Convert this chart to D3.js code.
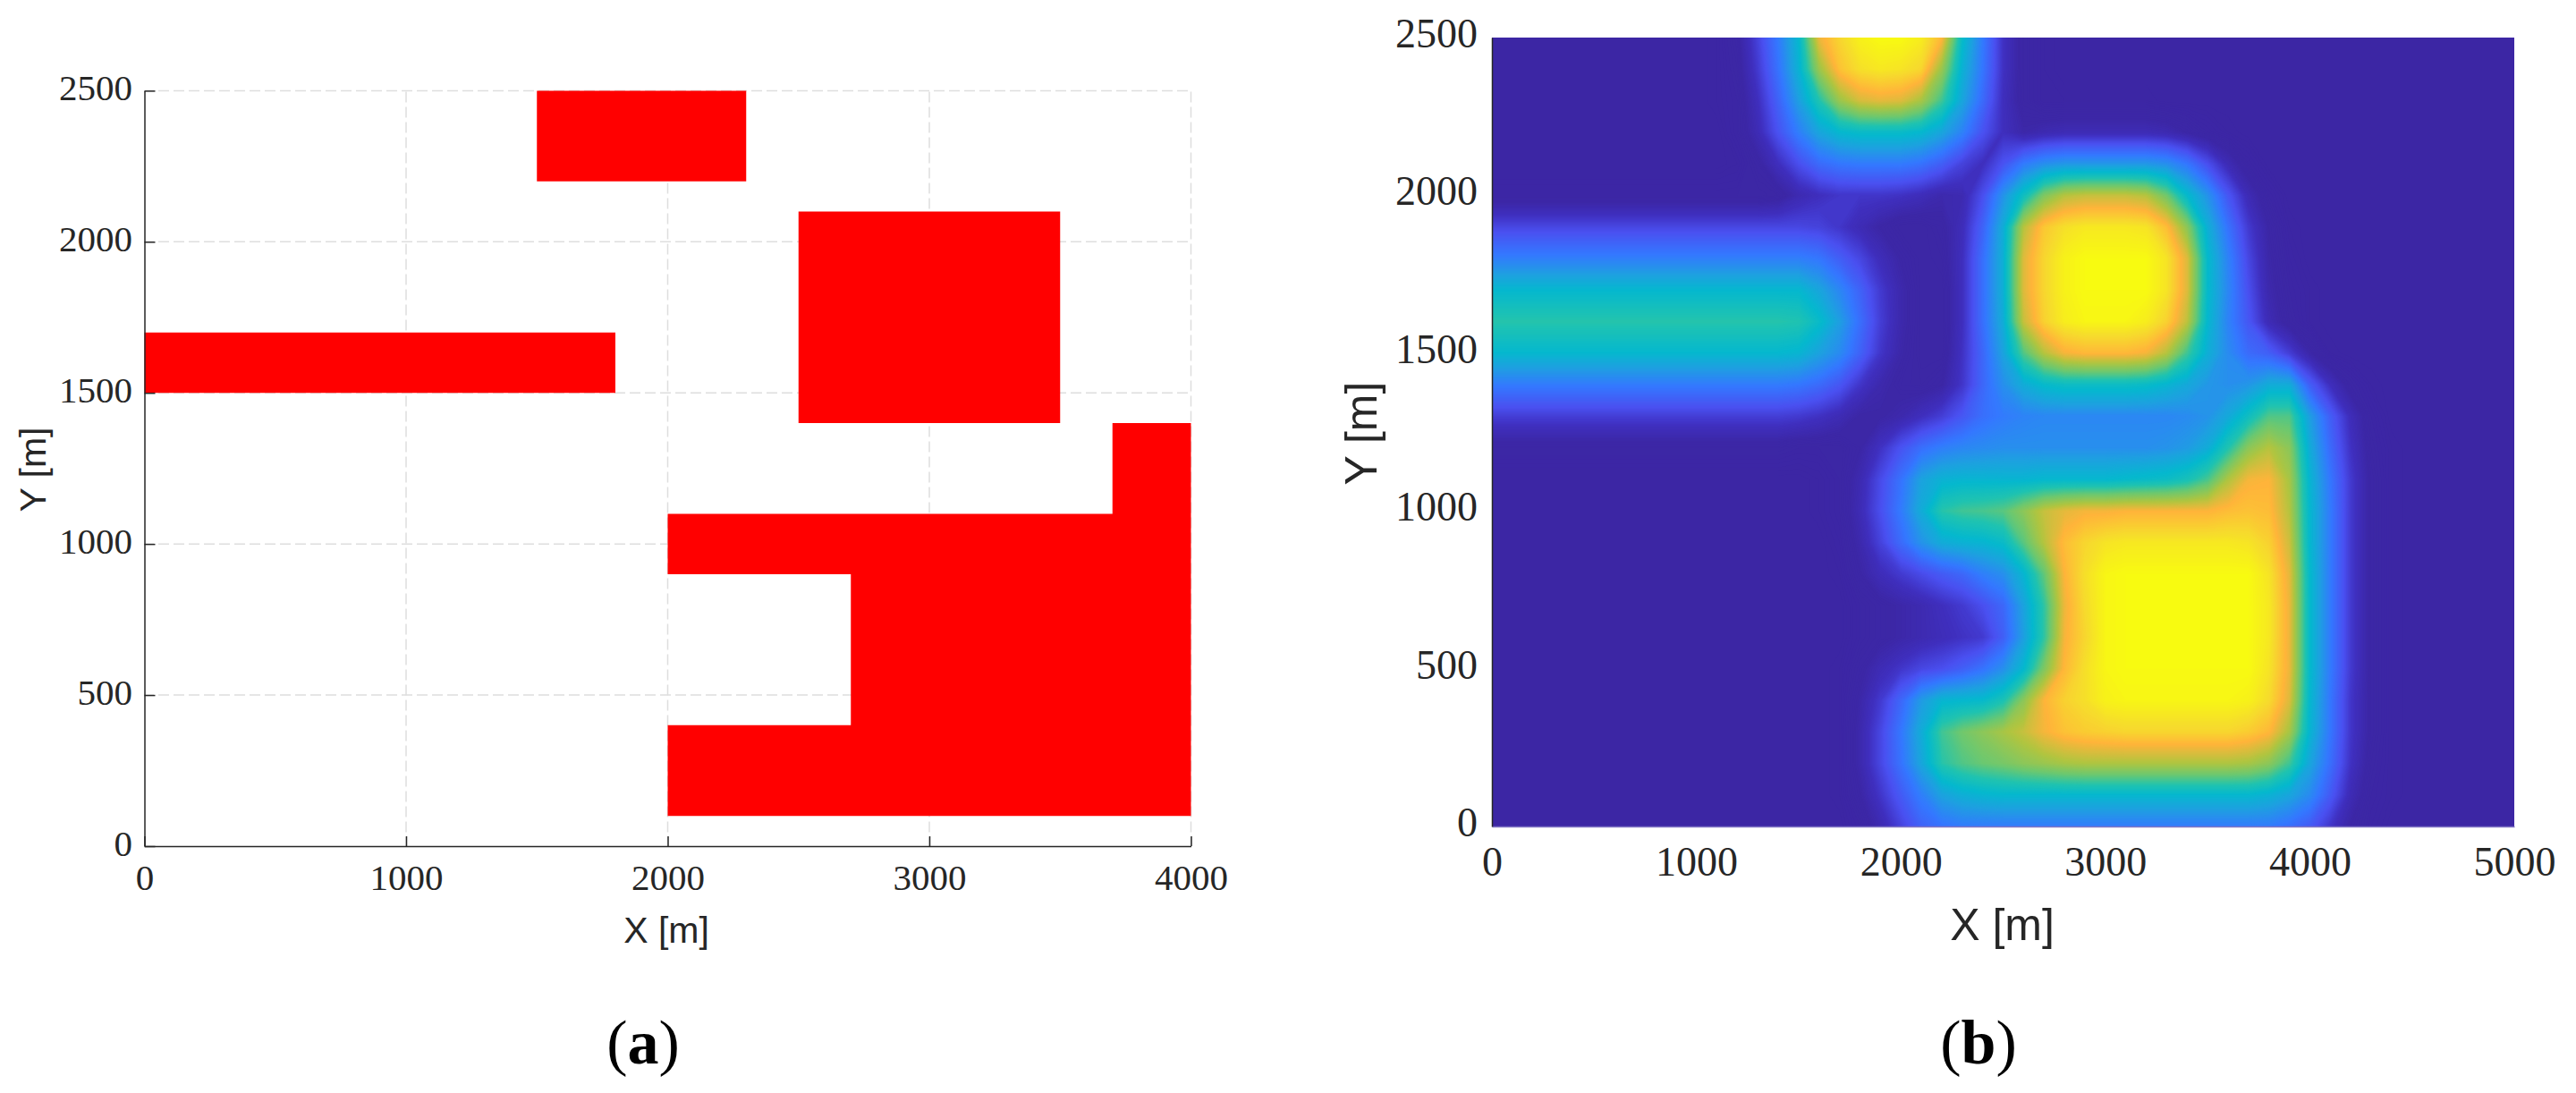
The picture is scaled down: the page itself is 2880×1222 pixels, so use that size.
<!DOCTYPE html>
<html lang="en">
<head>
<meta charset="utf-8">
<style>
  html, body { margin: 0; padding: 0; background: #fff; }
  svg { display: block; }
  .tick text { font-family: "Liberation Serif", serif; fill: #262626; }
</style>
</head>
<body>
<div id="my_dataviz"></div>
<script src="https://d3js.org/d3.v7.min.js"></script>
<script>
// panel (a): obstacle outlines, in metres
var blockTop = [[1500, 2200], [2300, 2200], [2300, 2500], [1500, 2500]];
var blockMiddle = [[2500, 1400], [3500, 1400], [3500, 2100], [2500, 2100]];
var blockLeft = [[0, 1500], [1800, 1500], [1800, 1700], [0, 1700]];
var blockBottom = [[2000, 100], [4000, 100], [4000, 1400], [3700, 1400], [3700, 1100], [2000, 1100],
    [2000, 900], [2700, 900], [2700, 400], [2000, 400]];
var blocks = [blockTop, blockMiddle, blockLeft, blockBottom];

var xTicksA = [0, 1000, 2000, 3000, 4000];
var xTicksB = [0, 1000, 2000, 3000, 4000, 5000];
var yTicks = [0, 500, 1000, 1500, 2000, 2500];

// panel (b): field, one row per 100 m of Y, one value per 100 m of X (0-100)
var row0 = [0,0,0,0,0,0,0,0,0,0, 0,0,0,0,0,0,0,0,3,9, 17,25,29,31,31,31,31,31,31,31, 31,31,31,31,31,31,31,31,31,28, 23,14,6,2,0,0,0,0,0,0, 0];
var row100 = [0,0,0,0,0,0,0,0,0,0, 0,0,0,0,0,0,0,1,6,14, 23,32,41,45,47,48,48,48,48,48, 48,48,48,48,48,48,48,48,46,42, 35,23,10,3,1,0,0,0,0,0, 0];
var row200 = [0,0,0,0,0,0,0,0,0,0, 0,0,0,0,0,0,0,1,8,18, 29,42,57,62,65,67,70,72,74,75, 75,75,75,75,75,75,75,74,70,60, 42,28,13,4,1,0,0,0,0,0, 0];
var row300 = [0,0,0,0,0,0,0,0,0,0, 0,0,0,0,0,0,0,1,8,18, 30,44,60,66,70,74,78,84,88,90, 91,92,92,92,92,92,92,90,86,74, 47,30,14,5,1,0,0,0,0,0, 0];
var row400 = [0,0,0,0,0,0,0,0,0,0, 0,0,0,0,0,0,0,1,7,15, 26,39,47,48,49,55,70,85,91,94, 98,99,99,99,99,99,99,98,93,81, 48,30,14,5,1,0,0,0,0,0, 0];
var row500 = [0,0,0,0,0,0,0,0,0,0, 0,0,0,0,0,0,0,1,5,10, 14,18,20,24,29,36,48,68,86,94, 99,100,100,100,100,100,100,100,95,83, 49,31,15,5,1,0,0,0,0,0, 0];
var row600 = [0,0,0,0,0,0,0,0,0,0, 0,0,0,0,0,0,0,0,3,5, 7,9,11,13,15,24,40,58,84,92, 99,100,100,100,100,100,100,100,96,83, 49,31,15,5,1,0,0,0,0,0, 0];
var row700 = [0,0,0,0,0,0,0,0,0,0, 0,0,0,0,0,0,0,0,3,5, 7,9,12,15,20,26,41,58,83,93, 99,100,100,100,100,100,100,100,96,83, 49,31,15,5,1,0,0,0,0,0, 0];
var row800 = [0,0,0,0,0,0,0,0,0,0, 0,0,0,0,0,0,0,1,6,11, 15,19,23,26,32,36,47,64,85,94, 99,100,100,100,100,100,100,100,95,82, 49,31,15,5,1,0,0,0,0,0, 0];
var row900 = [0,0,0,0,0,0,0,0,0,0, 0,0,0,0,0,0,0,2,8,17, 27,37,44,46,47,50,63,76,87,92, 95,96,96,96,96,96,96,95,91,79, 48,31,15,5,1,0,0,0,0,0, 0];
var row1000 = [0,0,0,0,0,0,0,0,0,0, 0,0,0,0,0,0,1,3,10,20, 31,44,57,60,61,63,70,78,82,84, 84,85,85,85,85,85,87,88,87,76, 48,31,15,5,1,0,0,0,0,0, 0];
var row1100 = [0,0,0,0,0,0,0,0,0,0, 0,0,0,0,0,0,1,3,9,19, 29,41,46,47,47,47,47,48,48,48, 48,49,50,51,54,61,75,84,85,74, 47,30,15,5,1,0,0,0,0,0, 0];
var row1200 = [4,4,4,4,4,4,4,4,4,4, 4,4,4,4,4,3,3,3,6,13, 21,28,32,34,35,36,36,36,36,36, 36,36,36,37,39,44,56,70,76,70, 44,27,13,4,1,0,0,0,0,0, 0];
var row1300 = [16,16,16,16,16,16,16,16,16,16, 16,16,16,16,16,15,13,10,6,6, 8,12,16,22,28,31,33,34,34,34, 34,34,34,34,35,37,43,52,62,62, 40,24,11,3,0,0,0,0,0,0, 0];
var row1400 = [31,31,31,31,31,31,31,31,31,31, 31,31,31,31,31,30,27,22,14,8, 5,4,6,14,26,36,44,49,51,51, 51,51,50,47,43,38,36,38,44,44, 24,12,4,1,0,0,0,0,0,0, 0];
var row1500 = [48,48,48,48,48,48,48,48,48,48, 48,48,48,48,48,47,41,35,25,14, 7,3,3,13,26,41,62,76,84,86, 86,86,84,76,60,45,35,27,24,16, 7,1,0,0,0,0,0,0,0,0, 0];
var row1600 = [57,57,57,57,57,57,57,57,57,57, 57,57,57,57,57,56,50,40,28,16, 8,3,3,12,28,44,78,91,97,99, 99,99,97,91,77,48,33,22,10,4, 1,0,0,0,0,0,0,0,0,0, 0];
var row1700 = [48,48,48,48,48,48,48,48,48,48, 48,48,48,48,48,48,42,34,25,15, 8,3,3,12,28,45,81,92,98,100, 100,100,100,95,81,49,34,20,8,3, 1,0,0,0,0,0,0,0,0,0, 0];
var row1800 = [32,32,32,32,32,32,32,32,32,32, 32,32,32,32,32,32,30,24,18,11, 6,3,4,12,28,45,81,92,98,100, 100,100,100,95,81,49,33,18,7,2, 0,0,0,0,0,0,0,0,0,0, 0];
var row1900 = [18,18,18,18,18,18,18,18,18,18, 18,18,18,18,18,18,17,14,10,6, 3,3,5,11,25,44,76,89,94,96, 96,96,95,87,70,45,29,15,6,1, 0,0,0,0,0,0,0,0,0,0, 0];
var row2000 = [3,3,3,3,3,3,3,3,3,3, 3,3,3,3,4,9,12,14,14,14, 13,11,8,9,20,37,52,68,76,78, 78,78,76,66,49,37,22,10,3,0, 0,0,0,0,0,0,0,0,0,0, 0];
var row2100 = [0,0,0,0,0,0,0,0,0,0, 0,0,1,5,12,20,27,30,31,31, 31,29,24,17,12,21,31,36,38,38, 38,38,38,36,30,20,10,3,0,0, 0,0,0,0,0,0,0,0,0,0, 0];
var row2200 = [0,0,0,0,0,0,0,0,0,0, 0,0,3,10,21,32,42,48,50,50, 50,48,42,33,21,12,7,9,10,10, 10,10,10,9,6,3,1,0,0,0, 0,0,0,0,0,0,0,0,0,0, 0];
var row2300 = [0,0,0,0,0,0,0,0,0,0, 0,1,3,12,25,40,56,72,80,82, 81,74,60,42,27,12,4,1,1,1, 1,1,1,0,0,0,0,0,0,0, 0,0,0,0,0,0,0,0,0,0, 0];
var row2400 = [0,0,0,0,0,0,0,0,0,0, 0,1,4,15,29,46,72,88,94,96, 95,92,72,46,30,13,4,1,0,0, 0,0,0,0,0,0,0,0,0,0, 0,0,0,0,0,0,0,0,0,0, 0];
var row2500 = [0,0,0,0,0,0,0,0,0,0, 0,1,5,17,31,48,83,92,98,100, 100,97,86,50,31,13,4,1,0,0, 0,0,0,0,0,0,0,0,0,0, 0,0,0,0,0,0,0,0,0,0, 0];
var fieldRows = [row0, row100, row200, row300, row400, row500, row600, row700, row800, row900, row1000, row1100, row1200,
    row1300, row1400, row1500, row1600, row1700, row1800, row1900, row2000, row2100, row2200, row2300, row2400, row2500];
var gridStep = 100;

var colorStops = [0, 6, 12, 20, 30, 40, 48, 56, 65, 75, 85, 93, 100];
var colorValues = ["#3c26a4", "#3c27a6", "#3f2fbe", "#4a50f0", "#3478ff", "#1ea0e0", "#05b8ce", "#20c3b0", "#6cc870", "#b0c540", "#ffb43a", "#f6dc2c", "#f8fb10"];

var svg = d3.select("#my_dataviz")
    .append("svg")
    .attr("width", 2880)
    .attr("height", 1222);

// ---------- panel (a) ----------
var xA = d3.scaleLinear().domain([0, 4000]).range([161.5, 1331.5]);
var yA = d3.scaleLinear().domain([0, 2500]).range([946, 101.4]);

var panelA = svg.append("g");

// dashed grid
panelA.selectAll("gridX")
    .data(xTicksA.slice(1))
    .enter()
    .append("line")
    .attr("x1", function (d) { return xA(d) })
    .attr("x2", function (d) { return xA(d) })
    .attr("y1", yA(0))
    .attr("y2", yA(2500))
    .attr("stroke", "#dedede")
    .attr("stroke-width", 1.5)
    .attr("stroke-dasharray", "12,5")
    .attr("stroke-dashoffset", 1.5);
panelA.selectAll("gridY")
    .data(yTicks.slice(1))
    .enter()
    .append("line")
    .attr("x1", xA(0))
    .attr("x2", xA(4000))
    .attr("y1", function (d) { return yA(d) })
    .attr("y2", function (d) { return yA(d) })
    .attr("stroke", "#dedede")
    .attr("stroke-width", 1.5)
    .attr("stroke-dasharray", "12,5")
    .attr("stroke-dashoffset", 1.5);

// red obstacles
var outline = d3.line()
    .x(function (d) { return xA(d[0]) })
    .y(function (d) { return yA(d[1]) });
panelA.selectAll("blocks")
    .data(blocks)
    .enter()
    .append("path")
    .attr("d", function (d) { return outline(d) + "Z" })
    .attr("fill", "#ff0000");

// axes
var axisAx = panelA.append("g")
    .attr("transform", "translate(0," + yA(0) + ")")
    .call(d3.axisBottom(xA).tickValues(xTicksA).tickFormat(d3.format("d")).tickSizeInner(-11).tickSizeOuter(0).tickPadding(20));
var axisAy = panelA.append("g")
    .attr("transform", "translate(" + xA(0) + ",0)")
    .call(d3.axisLeft(yA).tickValues(yTicks).tickFormat(d3.format("d")).tickSizeInner(-12).tickSizeOuter(0).tickPadding(13.5));
[axisAx, axisAy].forEach(function (a) {
    a.selectAll("path, line").attr("stroke", "#262626").attr("stroke-width", 1.5);
    a.selectAll("text").style("font-size", "41px");
});
axisAy.selectAll("text").attr("dy", "0.25em");

panelA.append("text")
    .attr("x", 745)
    .attr("y", 1054)
    .attr("text-anchor", "middle")
    .style("font-family", "'Liberation Sans', sans-serif")
    .style("font-size", "41px")
    .style("fill", "#262626")
    .text("X [m]");
panelA.append("text")
    .attr("transform", "translate(51,525) rotate(-90)")
    .attr("text-anchor", "middle")
    .style("font-family", "'Liberation Sans', sans-serif")
    .style("font-size", "41px")
    .style("fill", "#262626")
    .text("Y [m]");

// ---------- panel (b) ----------
var xB = d3.scaleLinear().domain([0, 5000]).range([1668, 2811]);
var yB = d3.scaleLinear().domain([0, 2500]).range([924, 42]);
var fieldColor = d3.scaleLinear().domain(colorStops).range(colorValues).clamp(true);

var panelB = svg.append("g");

panelB.append("clipPath")
    .attr("id", "fieldClip")
    .append("rect")
    .attr("x", xB(0))
    .attr("y", yB(2500))
    .attr("width", xB(5000) - xB(0))
    .attr("height", yB(0) - yB(2500));

// filled contours stacked from low to high; a grid index i sits at contour coordinate i + 0.5
var contours = d3.contours()
    .size([fieldRows[0].length, fieldRows.length])
    .thresholds(d3.range(0, 100.5, 0.5));
var fieldPath = d3.geoPath(d3.geoTransform({
    point: function (cx, cy) {
        this.stream.point(xB((cx - 0.5) * gridStep), yB((cy - 0.5) * gridStep));
    }
}));
panelB.append("g")
    .attr("clip-path", "url(#fieldClip)")
    .selectAll("path")
    .data(contours(fieldRows.flat()))
    .enter()
    .append("path")
    .attr("d", fieldPath)
    .attr("fill", function (d) { return fieldColor(d.value) });

var axisBx = panelB.append("g")
    .attr("transform", "translate(0," + yB(0) + ")")
    .call(d3.axisBottom(xB).tickValues(xTicksB).tickFormat(d3.format("d")).tickSize(0).tickPadding(22));
var axisBy = panelB.append("g")
    .attr("transform", "translate(" + xB(0) + ",0)")
    .call(d3.axisLeft(yB).tickValues(yTicks).tickFormat(d3.format("d")).tickSize(0).tickPadding(16));
axisBx.select("path").attr("stroke", "#7f74c4").attr("stroke-width", 1.5);
axisBy.select("path").attr("stroke", "#262626").attr("stroke-width", 1.5);
[axisBx, axisBy].forEach(function (a) {
    a.selectAll("text").style("font-size", "46px");
});
axisBy.selectAll("text").attr("dy", "0.23em");

panelB.append("text")
    .attr("x", 2238.5)
    .attr("y", 1051)
    .attr("text-anchor", "middle")
    .style("font-family", "'Liberation Sans', sans-serif")
    .style("font-size", "50px")
    .style("fill", "#262626")
    .text("X [m]");
panelB.append("text")
    .attr("transform", "translate(1538.7,484.5) rotate(-90)")
    .attr("text-anchor", "middle")
    .style("font-family", "'Liberation Sans', sans-serif")
    .style("font-size", "50px")
    .style("fill", "#262626")
    .text("Y [m]");

// panel captions
function caption(x, letter) {
    var t = svg.append("text")
        .attr("x", x)
        .attr("y", 1189)
        .attr("text-anchor", "middle")
        .style("font-family", "'Liberation Serif', serif")
        .style("font-size", "70px")
        .style("fill", "#000");
    t.append("tspan").text("(");
    t.append("tspan").style("font-weight", "bold").text(letter);
    t.append("tspan").text(")");
}
caption(719, "a");
caption(2212, "b");
</script>
</body>
</html>
